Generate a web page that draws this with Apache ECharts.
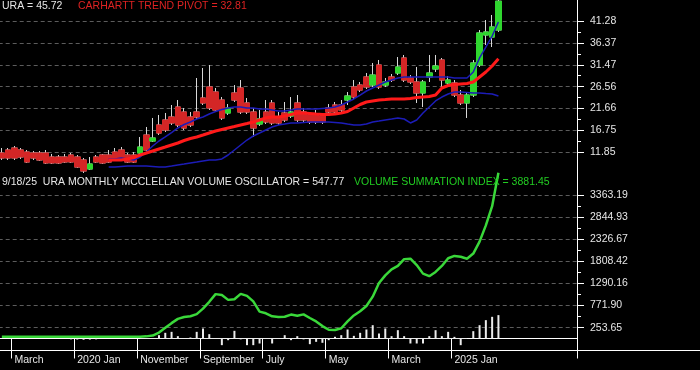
<!DOCTYPE html>
<html><head><meta charset="utf-8">
<script src="https://cdn.jsdelivr.net/npm/echarts@6/dist/echarts.min.js"></script>
<style>html,body{margin:0;padding:0;background:#000;}#c{width:700px;height:370px;}</style>
</head><body><div id="c"></div>
<script>
// ---------- data ----------
const startYear = 2019;
const monthCount = 92;
const categories = [];
for (let i = 0; i < monthCount; i++) {
  const y = startYear + Math.floor(i / 12), m = i % 12 + 1;
  categories.push(y + '-' + (m < 10 ? '0' : '') + m);
}
const xTickMonths = ['2019-03','2020-01','2020-11','2021-09','2022-07','2023-05','2024-03','2025-01'];
const xTickLabels = ['March','2020 Jan','November','September','July','May','March','2025 Jan'];
const priceTicks = [11.85,16.75,21.66,26.56,31.47,36.37,41.28];
const volTicks = [253.65,771.90,1290.16,1808.42,2326.67,2844.93,3363.19];

// [open, close, low, high]
const uraOHLC = [
[11.69,10.57,10.12,12.81],[12.36,10.57,10.12,12.81],[12.81,10.57,10.12,13.26],[12.36,10.79,10.35,12.81],
[11.91,9.67,9.45,12.36],[11.69,10.57,10.12,12.14],[11.69,10.12,9.90,12.14],[11.69,9.45,9.22,12.36],
[10.79,9.45,9.22,11.47],[10.79,9.45,9.22,11.24],[10.79,9.67,9.45,11.47],[11.24,9.67,9.45,11.69],
[10.79,8.55,8.33,11.24],[10.12,7.66,7.21,10.57],[8.10,9.22,7.88,10.79],[10.79,9.67,9.45,11.24],
[11.24,9.45,9.22,11.47],[11.24,9.67,9.45,12.36],[11.91,10.12,9.90,12.81],[12.36,10.12,9.90,13.03],
[11.24,9.67,9.45,11.69],[11.24,9.67,9.45,11.91],[11.69,13.03,11.24,15.28],[15.72,12.36,12.14,17.52],
[14.38,15.05,14.16,19.54],[17.97,16.17,15.72,20.21],[19.09,16.85,16.40,20.66],[19.76,18.42,17.97,22.45],
[22.00,17.97,17.52,23.57],[20.88,17.30,16.85,21.78],[19.76,17.97,17.52,20.88],[20.88,19.76,19.31,28.50],
[24.02,22.90,22.45,30.75],[26.49,21.78,21.33,31.42],[25.36,21.33,20.88,26.26],[23.57,19.54,19.09,24.24],
[20.66,21.78,20.21,22.67],[25.14,23.57,23.12,26.93],[26.26,20.88,20.43,28.05],[22.90,20.88,20.43,24.02],
[20.88,17.30,15.28,21.78],[18.19,19.31,17.75,21.33],[20.88,18.64,18.19,23.57],[22.90,18.42,17.97,23.57],
[19.76,18.42,17.97,20.88],[20.66,19.09,18.64,23.12],[19.98,20.88,19.54,24.24],[22.90,19.09,18.64,24.69],
[20.88,19.09,18.64,21.78],[20.21,18.64,18.19,20.88],[20.21,18.64,18.19,21.33],[19.98,18.64,18.19,20.66],
[21.78,20.88,20.43,22.67],[22.45,20.88,20.43,23.12],[22.45,21.33,20.88,23.57],[23.57,24.47,22.45,25.36],
[26.49,24.24,23.80,28.05],[26.93,25.81,25.36,27.61],[28.73,26.49,26.04,29.62],[26.93,29.17,26.49,31.87],
[31.42,26.49,26.04,32.54],[26.93,27.61,26.49,28.50],[28.73,28.05,27.61,29.40],[29.62,30.97,29.17,33.21],
[32.99,28.05,27.61,33.66],[28.50,27.61,27.16,29.17],[27.61,25.14,22.90,30.97],[25.14,27.61,22.00,28.05],
[28.73,29.62,27.61,33.66],[30.52,31.19,29.85,33.66],[32.54,28.05,25.81,32.99],[27.38,28.05,26.93,28.95],
[27.38,24.69,24.24,28.05],[24.69,22.90,22.45,25.81],[22.90,24.69,19.54,25.14],[24.69,31.87,24.24,32.54],
[31.42,38.59,30.97,39.26],[38.14,38.82,35.90,41.50],[37.69,39.94,35.45,42.63],[39.26,45.72,38.82,45.99]
];

const linesStart = 17; // first month with indicator lines
const carharttPivot = [10.12,10.12,10.12,10.35,10.68,11.24,11.69,12.14,12.59,13.03,13.48,13.93,14.49,14.94,15.28,15.72,
16.17,16.62,16.96,17.30,17.63,17.97,18.30,18.64,19.09,19.54,19.76,19.76,19.98,20.32,20.66,20.66,20.55,20.43,20.32,20.32,
20.43,20.66,20.99,21.78,22.56,23.12,23.35,23.57,23.68,23.80,23.80,23.80,23.91,24.13,24.24,24.35,24.69,26.26,26.82,27.05,
27.16,27.27,27.61,28.73,29.85,31.19,32.81];
const fastAvg = [10.35,10.35,10.57,10.35,10.12,10.79,11.91,13.26,14.38,15.28,16.27,17.30,18.08,18.64,19.31,19.76,
20.43,20.99,21.44,21.78,22.00,22.00,21.78,21.78,21.55,21.55,21.33,21.10,21.10,21.33,21.55,21.55,21.55,21.55,21.67,21.78,
22.00,22.45,23.12,23.80,24.69,25.59,26.26,26.93,27.61,28.05,28.50,28.73,28.73,28.73,28.73,28.73,28.73,28.73,28.73,28.50,
28.50,28.50,29.85,32.99,35.45,37.92,41.06];
const slowAvg = [8.55,8.55,8.66,8.77,8.77,8.77,8.77,8.66,8.55,8.55,8.77,9.00,9.22,9.45,9.67,9.90,
10.12,10.12,10.35,11.24,12.36,13.48,14.60,15.50,16.17,16.85,17.52,17.97,18.19,18.42,18.42,18.53,18.64,18.64,18.64,18.64,
18.53,18.42,18.19,17.97,17.97,18.19,18.64,18.86,19.09,19.31,19.54,19.31,18.42,19.09,20.66,22.00,23.35,24.24,24.91,25.36,
25.36,25.25,25.14,25.14,25.02,24.91,24.47];

const volOscillator = [0,0,0,0,0,0,0,0,0,0,0,-20,-25,-30,-25,-20,
0,0,0,0,0,0,0,0,0,78,133,156,55,0,23,156,234,102,0,-156,-40,180,-20,-156,-156,-117,0,-117,0,78,-39,55,-20,-133,-78,-101,-39,40,
78,211,62,133,211,312,117,234,55,195,55,-117,-117,-117,55,195,55,156,39,-156,0,172,312,430,508,547.77];
const volSummation = [42,42,42,42,42,42,42,42,42,42,42,42,42,42,42,42,42,42,42,42,42,42,42,
50,70,140,250,360,460,505,520,570,700,860,1040,1020,905,920,1045,1000,870,630,590,520,505,510,560,535,565,480,400,290,205,200,
240,400,540,640,760,980,1300,1480,1620,1700,1860,1870,1720,1520,1460,1560,1700,1880,1935,1915,1870,1990,2270,2650,3100,3881.45];
const zeroLineFrom = 22, zeroLineTo = 74;

// ---------- chart ----------
const pad = arr => new Array(linesStart).fill(null).concat(arr);
const mids = t => t.slice(1).map((v, i) => (v + t[i]) / 2);
const FONT = '"Liberation Sans", Arial, sans-serif';
const last = a => a[a.length - 1];
const bodies = uraOHLC.map(d => [d[0], d[1], Math.min(d[0], d[1]), Math.max(d[0], d[1])]);

const chart = echarts.init(document.getElementById('c'), null, {renderer: 'canvas'});
const gridL = -1.3, gridW = 578.3;
const hiddenY = (gi, min, max, ticks) => ({
  gridIndex: gi, type: 'value', position: 'right', min: min, max: max,
  axisLine: {show: false}, axisLabel: {show: false}, splitLine: {show: false},
  axisTick: {show: true, customValues: ticks, length: 4, lineStyle: {color: '#ffffff'}}
});
const mainY = (gi, min, max, ticks) => ({
  gridIndex: gi, type: 'value', position: 'right', min: min, max: max,
  axisLine: {show: true, lineStyle: {color: '#ffffff', width: 1}},
  axisTick: {show: true, customValues: ticks, length: 7, lineStyle: {color: '#ffffff'}},
  axisLabel: {customValues: ticks, formatter: v => v.toFixed(2), color: '#e6e6e6', fontSize: 10.5, fontFamily: FONT, margin: 13},
  splitLine: {show: true, lineStyle: {color: '#5c5c5c', type: [4, 3], width: 1}}
});

chart.setOption({
  backgroundColor: '#000000',
  animation: false,
  grid: [
    {left: gridL, top: 0, width: gridW, height: 172, outerBoundsMode: 'none'},
    {left: gridL, top: 172, width: gridW, height: 178, outerBoundsMode: 'none'}
  ],
  xAxis: [
    {gridIndex: 0, type: 'category', data: categories, boundaryGap: true, show: false},
    {gridIndex: 1, type: 'category', data: categories, boundaryGap: true,
     axisLine: {show: true, lineStyle: {color: '#ffffff', width: 1}},
     axisTick: {show: true, interval: (i, v) => xTickMonths.includes(v), length: 20, lineStyle: {color: '#ffffff'}},
     axisLabel: {show: true, interval: (i, v) => xTickMonths.includes(v),
       formatter: v => { const k = xTickMonths.indexOf(v); return k >= 0 ? xTickLabels[k] : ''; },
       align: 'left', color: '#e6e6e6', fontSize: 10.5, fontFamily: FONT, margin: 5},
     splitLine: {show: false}}
  ],
  yAxis: [
    mainY(0, 7.43, 45.99, priceTicks),
    hiddenY(0, 7.43, 45.99, mids(priceTicks)),
    mainY(1, -269.5, 3901.5, volTicks),
    hiddenY(1, -269.5, 3901.5, mids(volTicks))
  ],
  series: [
    {type: 'candlestick', xAxisIndex: 0, yAxisIndex: 0, data: uraOHLC, barWidth: 6, clip: false,
     itemStyle: {color: 'transparent', color0: 'transparent', borderColor: '#d8d8d8', borderColor0: '#d8d8d8', borderWidth: 1}},
    {type: 'candlestick', xAxisIndex: 0, yAxisIndex: 0, data: bodies, barWidth: 6, clip: false,
     itemStyle: {color: '#2fd62f', color0: '#d42626', borderColor: '#2fd62f', borderColor0: '#d42626', borderWidth: 1}},
    {type: 'line', xAxisIndex: 0, yAxisIndex: 0, data: pad(slowAvg), symbol: 'none', connectNulls: false,
     lineStyle: {color: '#1c1cb8', width: 1.5}},
    {type: 'line', xAxisIndex: 0, yAxisIndex: 0, data: pad(fastAvg), symbol: 'none',
     lineStyle: {color: '#1c1cb8', width: 1.5}},
    {type: 'line', xAxisIndex: 0, yAxisIndex: 0, data: pad(carharttPivot), symbol: 'none',
     lineStyle: {color: '#ff1a1a', width: 3}},
    {type: 'bar', xAxisIndex: 1, yAxisIndex: 2, data: volOscillator, barWidth: 2,
     itemStyle: {color: '#ececec'},
     markLine: {silent: true, symbol: 'none', label: {show: false},
       lineStyle: {color: '#ececec', width: 1, type: 'solid'},
       data: [[{coord: [categories[zeroLineFrom], 0]}, {coord: [categories[zeroLineTo], 0]}]]}},
    {type: 'line', xAxisIndex: 1, yAxisIndex: 2, data: volSummation, symbol: 'none',
     lineStyle: {color: '#3ad83a', width: 2.5}}
  ],
  graphic: [
    {type: 'line', shape: {x1: 0, y1: 350.5, x2: 700, y2: 350.5}, style: {stroke: '#ffffff', lineWidth: 1}, z: 10},
    {type: 'text', left: 2, top: 1, style: {text: 'URA = ' + last(uraOHLC)[1].toFixed(2), fill: '#e6e6e6', font: '10.5px ' + FONT}, z: 10},
    {type: 'text', left: 78, top: 1, style: {text: 'CARHARTT TREND PIVOT = ' + last(carharttPivot).toFixed(2), fill: '#dd2222', font: '10.5px ' + FONT}, z: 10},
    {type: 'text', left: 2, top: 177, style: {text: '9/18/25  URA MONTHLY MCCLELLAN VOLUME OSCILLATOR = ' + last(volOscillator).toFixed(2), fill: '#e6e6e6', font: '10.5px ' + FONT}, z: 10},
    {type: 'text', left: 354, top: 177, style: {text: 'VOLUME SUMMATION INDEX = ' + last(volSummation).toFixed(2), fill: '#22cc22', font: '10.5px ' + FONT}, z: 10}
  ]
});
</script>
</body></html>
